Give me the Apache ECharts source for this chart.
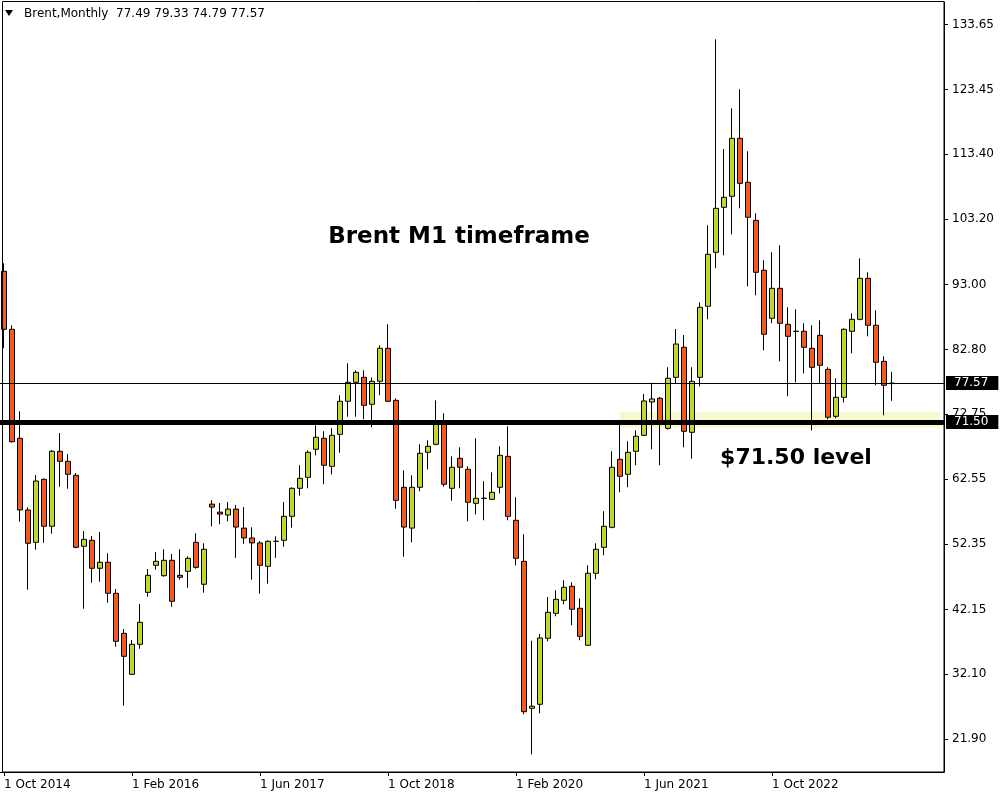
<!DOCTYPE html>
<html>
<head>
<meta charset="utf-8">
<script src="https://cdn.jsdelivr.net/npm/echarts@6/dist/echarts.min.js"></script>
<style>
html,body{margin:0;padding:0;background:#fff;}
#chart{width:1000px;height:800px;}
</style>
</head>
<body>
<div id="chart"></div>
<script>
// ---- data (Brent, monthly, from Oct 2014) ----
const opens = [95.05,85.98,68.93,57.72,52.66,62.52,55.17,66.90,65.33,63.14,52.04,52.98,48.60,49.54,44.69,38.43,32.02,36.71,44.84,49.07,47.44,49.85,47.50,48.13,52.66,46.10,58.64,57.39,56.93,57.86,54.89,53.35,52.57,48.91,52.82,52.98,56.73,61.11,62.83,67.21,68.93,64.55,69.55,74.72,77.69,78.47,74.25,77.85,83.01,74.87,61.27,54.89,61.27,66.74,67.99,71.28,61.11,65.80,64.08,58.76,59.55,59.39,61.27,66.11,56.11,49.69,26.70,27.33,37.65,41.56,43.59,45.78,42.35,36.56,47.82,51.88,55.01,65.65,63.30,66.90,69.40,74.61,75.19,70.49,78.47,83.17,69.87,78.47,89.58,98.02,105.06,106.78,115.85,108.97,103.02,95.21,87.70,92.39,86.76,85.66,85.67,83.01,85.04,79.72,72.37,75.34,85.67,87.54,93.95,86.61,80.97,77.49];
const highs = [96.30,86.60,73.15,58.14,63.19,62.64,67.10,69.76,66.47,63.50,54.43,53.65,54.28,50.94,45.36,39.10,37.38,43.01,48.49,51.15,51.57,50.83,51.57,50.47,54.07,52.51,59.26,58.81,58.97,58.50,58.17,55.01,52.85,52.98,53.61,58.97,61.27,64.71,67.05,70.96,70.03,70.50,75.66,80.66,79.57,79.57,78.47,83.48,86.76,75.19,63.92,63.14,67.99,68.62,74.87,72.84,66.11,67.52,64.55,68.93,62.21,63.61,67.68,70.81,59.70,53.92,37.28,38.32,44.11,45.16,46.72,46.41,43.90,49.07,52.51,57.52,66.90,71.50,68.46,70.18,75.86,77.63,75.40,80.04,86.03,85.09,80.04,90.20,102.24,131.33,114.18,120.54,123.51,113.82,104.12,96.77,98.02,99.11,89.42,89.11,86.92,86.61,87.39,80.04,78.32,86.13,88.48,97.08,94.89,88.95,81.75,79.33];
const lows = [83.01,68.24,55.89,45.25,51.51,52.60,54.01,61.36,61.05,51.73,42.28,46.35,46.50,43.22,36.34,27.11,31.90,36.02,44.16,48.38,47.28,42.59,46.82,45.56,48.54,44.79,55.14,55.47,55.94,50.23,52.42,46.82,44.63,46.19,50.23,51.98,54.95,59.95,61.11,66.27,61.74,63.30,66.68,72.31,72.31,71.90,70.65,75.66,74.60,57.92,50.41,52.66,60.64,64.08,67.83,61.36,59.17,61.11,55.95,57.04,56.11,59.30,60.33,56.11,49.07,25.77,19.51,25.92,37.18,41.09,42.97,39.69,37.34,36.50,46.88,50.63,54.86,60.48,61.27,64.71,69.30,67.21,64.71,70.30,77.53,67.52,65.74,77.07,87.54,95.52,97.55,100.84,104.90,92.70,91.29,82.69,86.92,80.97,75.50,77.69,79.09,70.18,77.53,71.90,72.06,74.56,82.22,87.39,84.88,77.22,72.53,74.79];
const closes = [85.98,68.40,57.72,52.51,62.25,55.17,66.90,65.33,63.30,51.88,53.13,48.60,49.54,44.69,37.18,34.83,36.71,40.15,47.50,49.69,49.85,43.44,47.19,50.16,48.75,51.57,58.17,57.08,57.86,55.05,53.35,52.57,49.07,52.82,52.82,56.73,61.11,62.67,66.74,69.09,64.71,69.40,74.72,77.69,79.25,74.09,77.85,83.01,74.72,59.23,55.05,61.27,66.58,67.68,71.28,61.74,64.40,64.40,58.92,59.55,59.55,60.48,66.27,56.73,50.16,26.17,27.02,37.70,41.72,43.75,45.63,42.19,37.96,47.82,51.57,55.17,64.40,62.99,66.74,69.25,74.77,75.08,71.60,78.32,83.68,70.03,77.85,89.42,97.71,104.90,106.62,115.85,108.81,103.50,94.89,85.20,92.39,86.92,84.88,85.66,83.16,80.03,80.35,72.22,75.34,85.98,87.54,93.95,86.61,80.82,77.22,77.57];

const yTicks = [21.90,32.10,42.15,52.35,62.55,72.75,82.80,93.00,103.20,113.40,123.45,133.65];
const currentPrice = 77.57;
const levelPrice = 71.50;
const bandTop = 73.05, bandBottom = 70.60;
const bandFromIndex = 77, bandToIndex = 117;
const headerText = 'Brent,Monthly  77.49 79.33 74.79 77.57';

// month categories (plus empty slots on the right, MT4 chart shift)
const monthNames = ['Jan','Feb','Mar','Apr','May','Jun','Jul','Aug','Sep','Oct','Nov','Dec'];
const slotCount = 118;
const categories = [];
for (let k = 0; k < slotCount; k++) {
  const m = 9 + k;
  categories.push('1 ' + monthNames[m % 12] + ' ' + (2014 + Math.floor(m / 12)));
}
const candleData = opens.map((o, i) => [o, closes[i], lows[i], highs[i]]);
const showLabel = (idx) => idx % 16 === 0 && idx < opens.length;

const chart = echarts.init(document.getElementById('chart'), null, {renderer: 'canvas'});
const FONT = '"DejaVu Sans", Verdana, sans-serif';
const boxLabel = (txt) => ({show: true, position: 'end', formatter: txt, distance: 2,
  backgroundColor: '#000', color: '#fff', padding: [1, 10, 1, 8], fontFamily: FONT, fontSize: 12});

chart.setOption({
  animation: false,
  backgroundColor: '#ffffff',
  grid: {left: -0.7, right: 56, top: 2, bottom: 28, containLabel: false},
  xAxis: {
    type: 'category',
    data: categories,
    boundaryGap: true,
    axisLine: {show: true, lineStyle: {color: '#000', width: 1}},
    axisTick: {show: true, alignWithLabel: true, interval: (i) => showLabel(i), length: 4, lineStyle: {color: '#000'}},
    axisLabel: {interval: (i) => showLabel(i), align: 'left', margin: 7, color: '#000', fontFamily: FONT, fontSize: 12},
    splitLine: {show: false}
  },
  yAxis: {
    type: 'value',
    position: 'right',
    min: 16.74,
    max: 137.17,
    scale: true,
    splitLine: {show: false},
    axisLine: {show: true, lineStyle: {color: '#000', width: 1}},
    axisTick: {show: true, customValues: yTicks, length: 4, lineStyle: {color: '#000'}},
    axisLabel: {customValues: yTicks, formatter: (v) => Number(v).toFixed(2), margin: 8, color: '#000', fontFamily: FONT, fontSize: 12}
  },
  series: [
    {
      type: 'line',
      data: [],
      z: 1,
      silent: true,
      markArea: {
        silent: true,
        itemStyle: {color: '#F8F8D0'},
        data: [[
          {xAxis: categories[bandFromIndex], yAxis: bandTop},
          {xAxis: categories[bandToIndex], yAxis: bandBottom}
        ]]
      }
    },
    {
      type: 'candlestick',
      data: candleData,
      barWidth: 5,
      z: 3,
      silent: true,
      itemStyle: {
        color: '#C3D82E',
        color0: '#F25A22',
        borderColor: '#000',
        borderColor0: '#000',
        borderWidth: 1
      },
      markLine: {
        silent: true,
        symbol: ['none', 'none'],
        animation: false,
        data: [
          {yAxis: currentPrice, lineStyle: {color: '#000', width: 1, type: 'solid'}, label: boxLabel(currentPrice.toFixed(2))},
          {yAxis: levelPrice, lineStyle: {color: '#000', width: 5, type: 'solid'}, label: boxLabel(levelPrice.toFixed(2))}
        ]
      }
    }
  ],
  graphic: [
    {type: 'rect', shape: {x: 2.5, y: 1.5, width: 941.5, height: 770.5}, style: {fill: 'none', stroke: '#000', lineWidth: 1}, silent: true, z: 10},
    {type: 'polygon', shape: {points: [[5, 10], [13, 10], [9, 16]]}, style: {fill: '#000'}, silent: true, z: 11},
    {type: 'text', x: 24, y: 14, style: {text: headerText, fill: '#000', font: '12px ' + FONT, textVerticalAlign: 'middle'}, silent: true, z: 11},
    {type: 'text', x: 459, y: 237, style: {text: 'Brent M1 timeframe', fill: '#000', font: 'bold 23px ' + FONT, textAlign: 'center', textVerticalAlign: 'middle'}, silent: true, z: 11},
    {type: 'text', x: 796, y: 458, style: {text: '$71.50 level', fill: '#000', font: 'bold 22px ' + FONT, textAlign: 'center', textVerticalAlign: 'middle'}, silent: true, z: 11}
  ]
});
</script>
</body>
</html>
